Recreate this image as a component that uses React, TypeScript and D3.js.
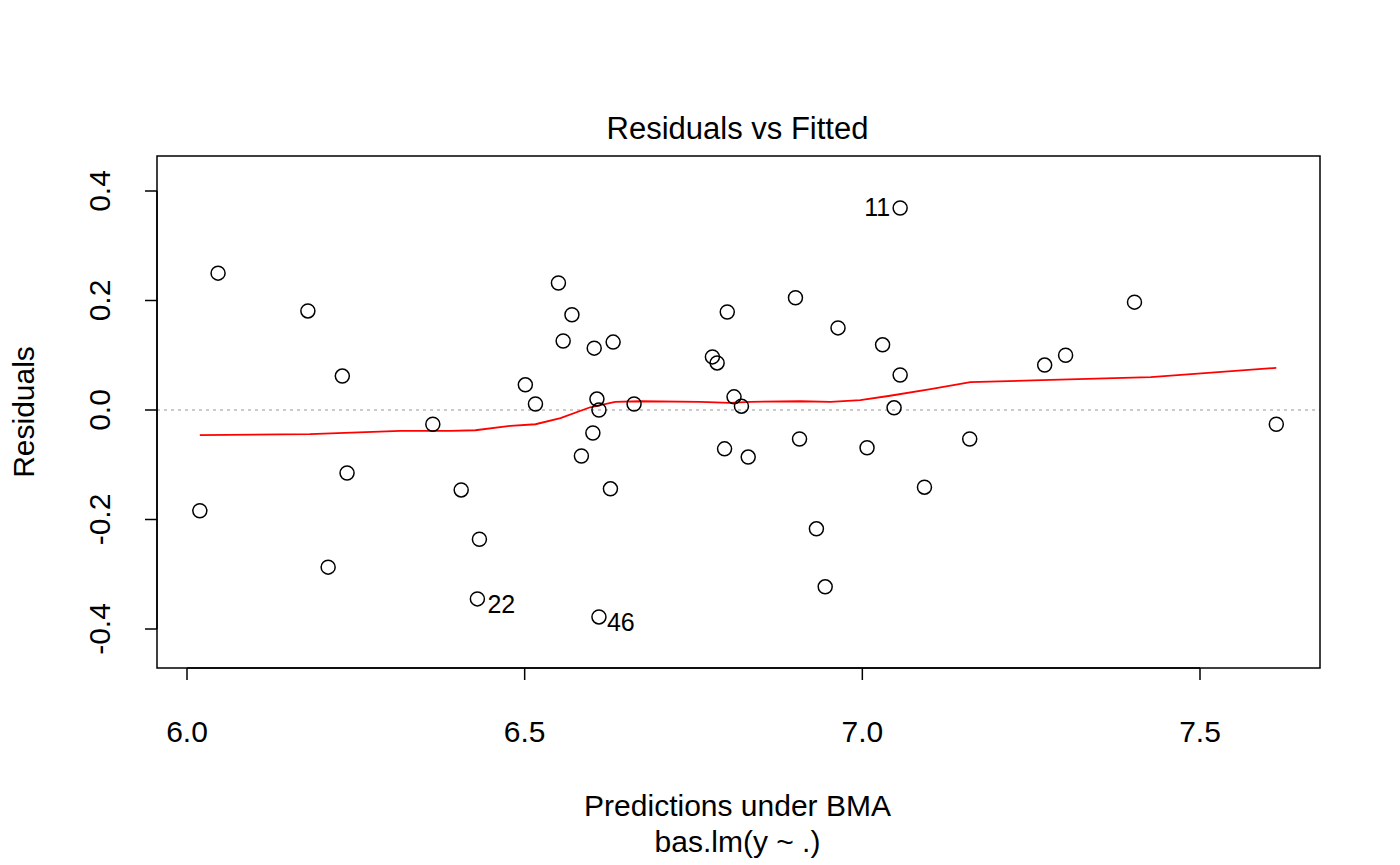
import * as d3 from "d3";

const fitted = [6.019, 6.046, 6.179, 6.209, 6.23, 6.237, 6.364, 6.406, 6.43, 6.433, 6.501, 6.516, 6.55, 6.557, 6.57, 6.584, 6.601, 6.603, 6.607, 6.61, 6.61, 6.627, 6.631, 6.662, 6.778, 6.785, 6.796, 6.8, 6.81, 6.821, 6.831, 6.901, 6.907, 6.932, 6.945, 6.964, 7.007, 7.03, 7.047, 7.056, 7.056, 7.092, 7.159, 7.27, 7.301, 7.403, 7.613];
const resid = [-0.184, 0.25, 0.181, -0.287, 0.062, -0.115, -0.026, -0.146, -0.345, -0.236, 0.046, 0.011, 0.232, 0.126, 0.174, -0.084, -0.042, 0.113, 0.02, 0.0, -0.378, -0.144, 0.124, 0.011, 0.097, 0.086, -0.071, 0.179, 0.024, 0.007, -0.086, 0.205, -0.053, -0.217, -0.323, 0.15, -0.069, 0.119, 0.004, 0.369, 0.064, -0.141, -0.053, 0.082, 0.1, 0.197, -0.026];

const smoothX = [6.019, 6.182, 6.316, 6.39, 6.427, 6.479, 6.516, 6.553, 6.597, 6.634, 6.671, 6.76, 6.804, 6.834, 6.908, 6.953, 6.997, 7.041, 7.101, 7.16, 7.279, 7.427, 7.613];
const smoothY = [-0.046, -0.044, -0.038, -0.038, -0.037, -0.029, -0.026, -0.015, 0.005, 0.015, 0.016, 0.015, 0.013, 0.015, 0.016, 0.015, 0.018, 0.026, 0.038, 0.051, 0.055, 0.06, 0.077];

const labelled = [
  { id: "11", x: 7.056, y: 0.369, anchor: "end", dx: -10, dy: 8 },
  { id: "22", x: 6.43, y: -0.345, anchor: "start", dx: 10, dy: 14 },
  { id: "46", x: 6.61, y: -0.378, anchor: "start", dx: 8, dy: 14 },
];

const xTicks = [6.0, 6.5, 7.0, 7.5];
const yTicks = [-0.4, -0.2, 0.0, 0.2, 0.4];

const L = 157, R = 1320, T = 156, B = 668;
const font = "Liberation Sans, Arial, Helvetica, sans-serif";
const FS = 30;

export default function App() {
  const x = d3.scaleLinear().domain([6, 7.5]).range([187, 1200]);
  const y = d3.scaleLinear().domain([-0.4, 0.4]).range([629, 191]);
  const line = d3.line<number>().x((d, i) => x(smoothX[i])).y((d, i) => y(smoothY[i]));

  return (
    <svg width={1400} height={865} style={{ position: "absolute", left: 0, top: 0, background: "#fff" }} fontFamily={font}>
      <text x={(L + R) / 2 - 1} y={139} textAnchor="middle" fontSize={31}>Residuals vs Fitted</text>
      <line x1={L} x2={R} y1={y(0)} y2={y(0)} stroke="#bbb" strokeDasharray="3,4" strokeWidth={1.5} />
      <path d={line(smoothX) || ""} fill="none" stroke="red" strokeWidth={1.8} />
      {fitted.map((f, i) => (
        <circle key={i} cx={x(f)} cy={y(resid[i])} r={7} fill="none" stroke="#000" strokeWidth={1.5} />
      ))}
      {labelled.map((l) => (
        <text key={l.id} x={x(l.x) + l.dx} y={y(l.y) + l.dy} textAnchor={l.anchor} fontSize={25}>{l.id}</text>
      ))}
      <rect x={L} y={T} width={R - L} height={B - T} fill="none" stroke="#000" strokeWidth={1.5} />
      <line x1={x(6)} x2={x(7.5)} y1={B} y2={B} stroke="#000" strokeWidth={1.5} />
      {xTicks.map((t) => (
        <g key={t}>
          <line x1={x(t)} x2={x(t)} y1={B} y2={B + 12} stroke="#000" strokeWidth={1.5} />
          <text x={x(t)} y={742} textAnchor="middle" fontSize={FS}>{t.toFixed(1)}</text>
        </g>
      ))}
      {yTicks.map((t) => (
        <g key={t}>
          <line x1={L - 12} x2={L} y1={y(t)} y2={y(t)} stroke="#000" strokeWidth={1.5} />
          <text transform={`translate(110,${y(t)}) rotate(-90)`} textAnchor="middle" fontSize={FS}>{t.toFixed(1)}</text>
        </g>
      ))}
      <line x1={L} x2={L} y1={y(-0.4)} y2={y(0.4)} stroke="#000" strokeWidth={1.5} />
      <text transform={`translate(34,${(T + B) / 2}) rotate(-90)`} textAnchor="middle" fontSize={FS}>Residuals</text>
      <text x={(L + R) / 2 - 1} y={816} textAnchor="middle" fontSize={FS}>Predictions under BMA</text>
      <text x={(L + R) / 2 - 1} y={852} textAnchor="middle" fontSize={FS}>bas.lm(y ~ .)</text>
    </svg>
  );
}
